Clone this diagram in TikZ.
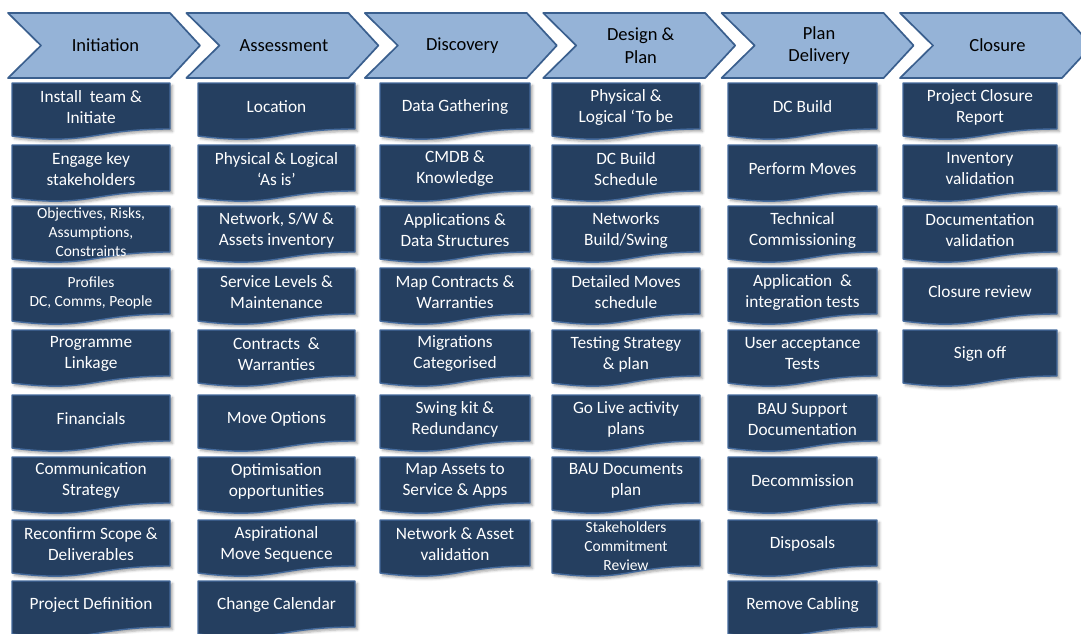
\documentclass[tikz,border=0pt]{standalone}
\usepackage{fontspec}
\setmainfont{Carlito}
\usetikzlibrary{shadows.blur}

\definecolor{phasefill}{RGB}{149,179,215}
\definecolor{phaseline}{RGB}{58,95,142}
\definecolor{taskfill}{RGB}{37,63,96}
\definecolor{taskline}{RGB}{68,106,156}

% #2 = column, #3 = row; the card is drawn first, its text node on top
\newcommand\addtask[4][]{%
  \pgfmathsetmacro\tx{{91,276.5,455,626,802.5,980}[#2-1]}%
  \pgfmathsetmacro\tw{{79,78.5,75,74,74.5,77}[#2-1]}%
  \pgfmathsetmacro\ty{{83,145,206,268,330,395,457,520,581}[#3-1]}%
  \filldraw[taskbox] (\tx-\tw,\ty) -- (\tx+\tw,\ty) -- (\tx+\tw,\ty+46)
    .. controls (\tx,\ty+46) and (\tx,\ty+63) .. (\tx-\tw,\ty+53) -- cycle;
  \node[tasktext,#1] (t#2#3) at (\tx,\ty+24) {#4};
}

\begin{document}
\begin{tikzpicture}[
    x=1pt, y=-1pt,
    line join=round
]
	\tikzset{
	    phase/.style = {fill=phasefill, draw=phaseline, line width=1.7pt},
	    phasetext/.style = {align=center, inner sep=0pt, text=black,
	        font=\fontsize{18.5}{22.5}\selectfont},
	    taskbox/.style = {fill=taskfill, draw=taskline, line width=1.4pt,
	        blur shadow={shadow xshift=2.5pt, shadow yshift=-2.5pt,
	            shadow blur radius=2.5pt, shadow opacity=35}},
	    tasktext/.style = {align=center, inner sep=0pt, text=white,
	        font=\fontsize{17.3}{21}\selectfont},
	    smalltask/.style = {font=\fontsize{15.5}{19}\selectfont}
	}
	\useasboundingbox (0,0) rectangle (1081,634);

	% phase chevrons
	\foreach \name/\txt [count=\i from 0] in {init/Initiation, assess/Assessment,
	    disc/Discovery, design/{Design \&\\ Plan}, deliv/{Plan\\ Delivery}, close/Closure} {
	    \pgfmathsetmacro\px{8+178.4*\i}
	    \draw[phase] (\px,13) -- ++(162,0) -- ++(30,32.5) -- ++(-30,32.5)
	        -- ++(-162,0) -- ++(33,-32.5) -- cycle;
	    \node[phasetext] (\name) at (\px+97.5,45.5) {\txt};
	}

	% Initiation
	\addtask{1}{1}{Install\ \ team \&\\ Initiate}
	\addtask{1}{2}{Engage key\\ stakeholders}
	\addtask[smalltask, yshift=-2pt]{1}{3}{Objectives, Risks,\\ Assumptions,\\ Constraints}
	\addtask[smalltask, yshift=-1pt]{1}{4}{Profiles\\ DC, Comms, People}
	\addtask{1}{5}{Programme\\ Linkage}
	\addtask{1}{6}{Financials}
	\addtask{1}{7}{Communication\\ Strategy}
	\addtask{1}{8}{Reconfirm Scope \&\\ Deliverables}
	\addtask{1}{9}{Project Definition}

	% Assessment
	\addtask{2}{1}{Location}
	\addtask{2}{2}{Physical \& Logical\\ ‘As is’}
	\addtask{2}{3}{Network, S/W \&\\ Assets inventory}
	\addtask{2}{4}{Service Levels \&\\ Maintenance}
	\addtask{2}{5}{Contracts\ \ \&\\ Warranties}
	\addtask{2}{6}{Move Options}
	\addtask{2}{7}{Optimisation\\ opportunities}
	\addtask{2}{8}{Aspirational\\ Move Sequence}
	\addtask{2}{9}{Change Calendar}

	% Discovery
	\addtask{3}{1}{Data Gathering}
	\addtask{3}{2}{CMDB \&\\ Knowledge}
	\addtask{3}{3}{Applications \&\\ Data Structures}
	\addtask{3}{4}{Map Contracts \&\\ Warranties}
	\addtask{3}{5}{Migrations\\ Categorised}
	\addtask{3}{6}{Swing kit \&\\ Redundancy}
	\addtask{3}{7}{Map Assets to\\ Service \& Apps}
	\addtask{3}{8}{Network \& Asset\\ validation}

	% Design & Plan
	\addtask{4}{1}{Physical \&\\ Logical ‘To be}
	\addtask{4}{2}{DC Build\\ Schedule}
	\addtask{4}{3}{Networks\\ Build/Swing}
	\addtask{4}{4}{Detailed Moves\\ schedule}
	\addtask{4}{5}{Testing Strategy\\ \& plan}
	\addtask{4}{6}{Go Live activity\\ plans}
	\addtask{4}{7}{BAU Documents\\ plan}
	\addtask[smalltask, yshift=-2pt]{4}{8}{Stakeholders\\ Commitment\\ Review}

	% Plan Delivery
	\addtask{5}{1}{DC Build}
	\addtask{5}{2}{Perform Moves}
	\addtask{5}{3}{Technical\\ Commissioning}
	\addtask{5}{4}{Application\ \ \&\\ integration tests}
	\addtask{5}{5}{User acceptance\\ Tests}
	\addtask{5}{6}{BAU Support\\ Documentation}
	\addtask{5}{7}{Decommission}
	\addtask{5}{8}{Disposals}
	\addtask{5}{9}{Remove Cabling}

	% Closure
	\addtask{6}{1}{Project Closure\\ Report}
	\addtask{6}{2}{Inventory\\ validation}
	\addtask{6}{3}{Documentation\\ validation}
	\addtask{6}{4}{Closure review}
	\addtask{6}{5}{Sign off}
\end{tikzpicture}
\end{document}
